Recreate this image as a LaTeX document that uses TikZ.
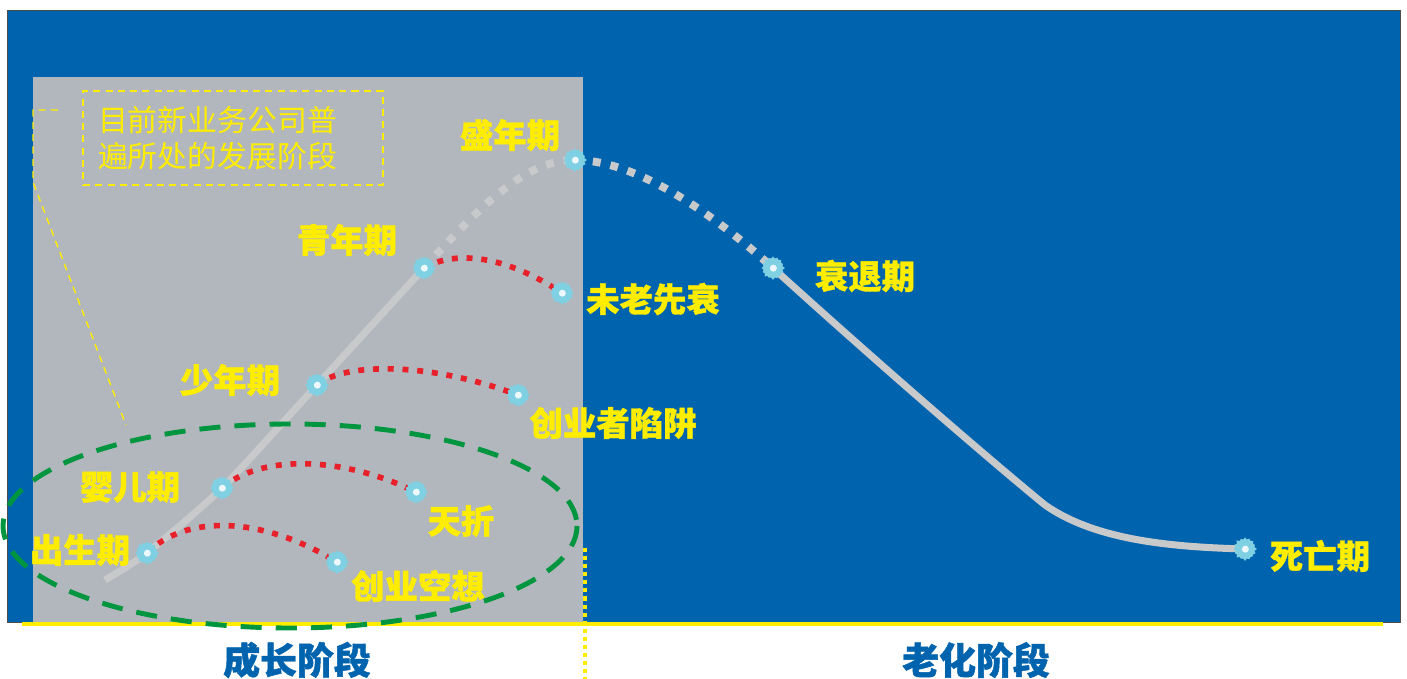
\documentclass[tikz,border=0pt]{standalone}
\usepackage{fontspec}
\usepackage{tikz}
\usepackage{xcolor}
\usetikzlibrary{shapes.symbols}
\newfontfamily\cjk{Noto Sans CJK SC}[BoldFeatures={FakeBold=1.2}]
\definecolor{sea-blue}{HTML}{0063AE}
\definecolor{panel-grey}{HTML}{B1B7BD}
\definecolor{curve-grey}{HTML}{C8C9CB}
\definecolor{mark-yellow}{HTML}{FFED00}
\definecolor{trap-red}{HTML}{E8202A}
\definecolor{ring-green}{HTML}{009640}
\definecolor{dot-cyan}{HTML}{7FD0E2}
\tikzset{
    stage-label/.style = {text=mark-yellow, font=\cjk\bfseries\fontsize{19}{21}\selectfont, inner sep=0pt},
    phase-label/.style = {text=sea-blue, font=\cjk\bfseries\fontsize{21}{24}\selectfont, inner sep=0pt},
    stage-dot/.style = {starburst, starburst points=16, starburst point height=1.5pt, fill=dot-cyan, inner sep=0pt, minimum size=14pt,
        path picture={\fill[white!85!dot-cyan] (path picture bounding box.center) circle (2pt);}},
    life-line/.style = {draw=curve-grey, line width=4pt},
    life-dash/.style = {draw=curve-grey, line width=4.5pt, dash pattern=on 4.5pt off 5.7pt},
    trap-line/.style = {draw=trap-red, line width=3.2pt, dash pattern=on 3.4pt off 5pt},
    note-box/.style = {draw=mark-yellow, line width=1.1pt, dash pattern=on 4pt off 3pt, text=mark-yellow, font=\cjk\fontsize{17}{20.5}\selectfont, align=left, text width=5.4cm, inner sep=0.3cm, minimum height=1.8cm},
}
\begin{document}
\begin{tikzpicture}[x=0.02cm, y=-0.02cm]
\useasboundingbox (0,0) rectangle (1407,679);
\fill[white] (0,0) rectangle (1407,679);
\filldraw[fill=sea-blue, draw=black!70, thin] (7,10) rectangle (1400,622);
\fill[panel-grey] (33,77) rectangle (583,622);
\draw[mark-yellow, line width=2.3pt] (22,624) -- (1383,624);
\draw[mark-yellow, line width=1.8pt, dash pattern=on 2.3pt off 2.3pt] (585,548) -- (585,679);

\coordinate (start) at (105,580);
\coordinate (birth) at (147,553);
\coordinate (infant) at (222,488);
\coordinate (child) at (317,385);
\coordinate (youth) at (424,268);
\coordinate (prime) at (575,160);
\coordinate (decline) at (773,268);
\coordinate (bend) at (1045,505);
\coordinate (death) at (1245,549);
\coordinate (fancy) at (337,562);
\coordinate (early-death) at (416,492);
\coordinate (founder-trap) at (518,395);
\coordinate (premature) at (562,293);

\draw[life-line] plot[smooth, tension=0.4] coordinates {(start) (birth) (infant) (child) (youth)};
\draw[life-dash] (youth) .. controls (490,195) and (530,160) .. (prime);
\draw[life-dash] (prime) .. controls (640,160) and (720,220) .. (decline);
\draw[life-line] (decline) .. controls (880,365) and (990,460) .. (bend) .. controls (1095,540) and (1170,547) .. (death);

\draw[trap-line] (birth) .. controls (185,515) and (260,515) .. (fancy);
\draw[trap-line] (infant) .. controls (260,455) and (340,455) .. (early-death);
\draw[trap-line] (child) .. controls (345,362) and (430,362) .. (founder-trap);
\draw[trap-line] (youth) .. controls (455,250) and (505,255) .. (premature);

\draw[ring-green, line width=2.8pt, dash pattern=on 12pt off 8pt] (290,526) ellipse [x radius=287, y radius=102];

\foreach \p in {birth, infant, child, youth, prime, decline, death, fancy, early-death, founder-trap, premature}
    \node[stage-dot] at (\p) {};

\node[note-box] (note) at (233,138) {目前新业务公司普\\遍所处的发展阶段};
\coordinate (lead-a) at (58,110);
\coordinate (lead-b) at (33,110);
\coordinate (lead-c) at (33,182);
\coordinate (lead-d) at (126,425);
\draw[mark-yellow, line width=0.8pt, dash pattern=on 4pt off 3pt] (lead-a) -- (lead-b) -- (lead-c) -- (lead-d);

\node[stage-label] (l-birth) at (80,550) {出生期};
\node[stage-label] (l-infant) at (130,487) {婴儿期};
\node[stage-label] (l-child) at (230,380) {少年期};
\node[stage-label] (l-youth) at (347,240) {青年期};
\node[stage-label] (l-prime) at (510,135) {盛年期};
\node[stage-label] (l-premature) at (653,299) {未老先衰};
\node[stage-label] (l-trap) at (613,423) {创业者陷阱};
\node[stage-label] (l-early) at (461,521) {天折};
\node[stage-label] (l-fancy) at (418,586) {创业空想};
\node[stage-label] (l-decline) at (865,276) {衰退期};
\node[stage-label] (l-death) at (1320,556) {死亡期};

\node[phase-label] (growth) at (297,660) {成长阶段};
\node[phase-label] (aging) at (976,660) {老化阶段};
\end{tikzpicture}
\end{document}
